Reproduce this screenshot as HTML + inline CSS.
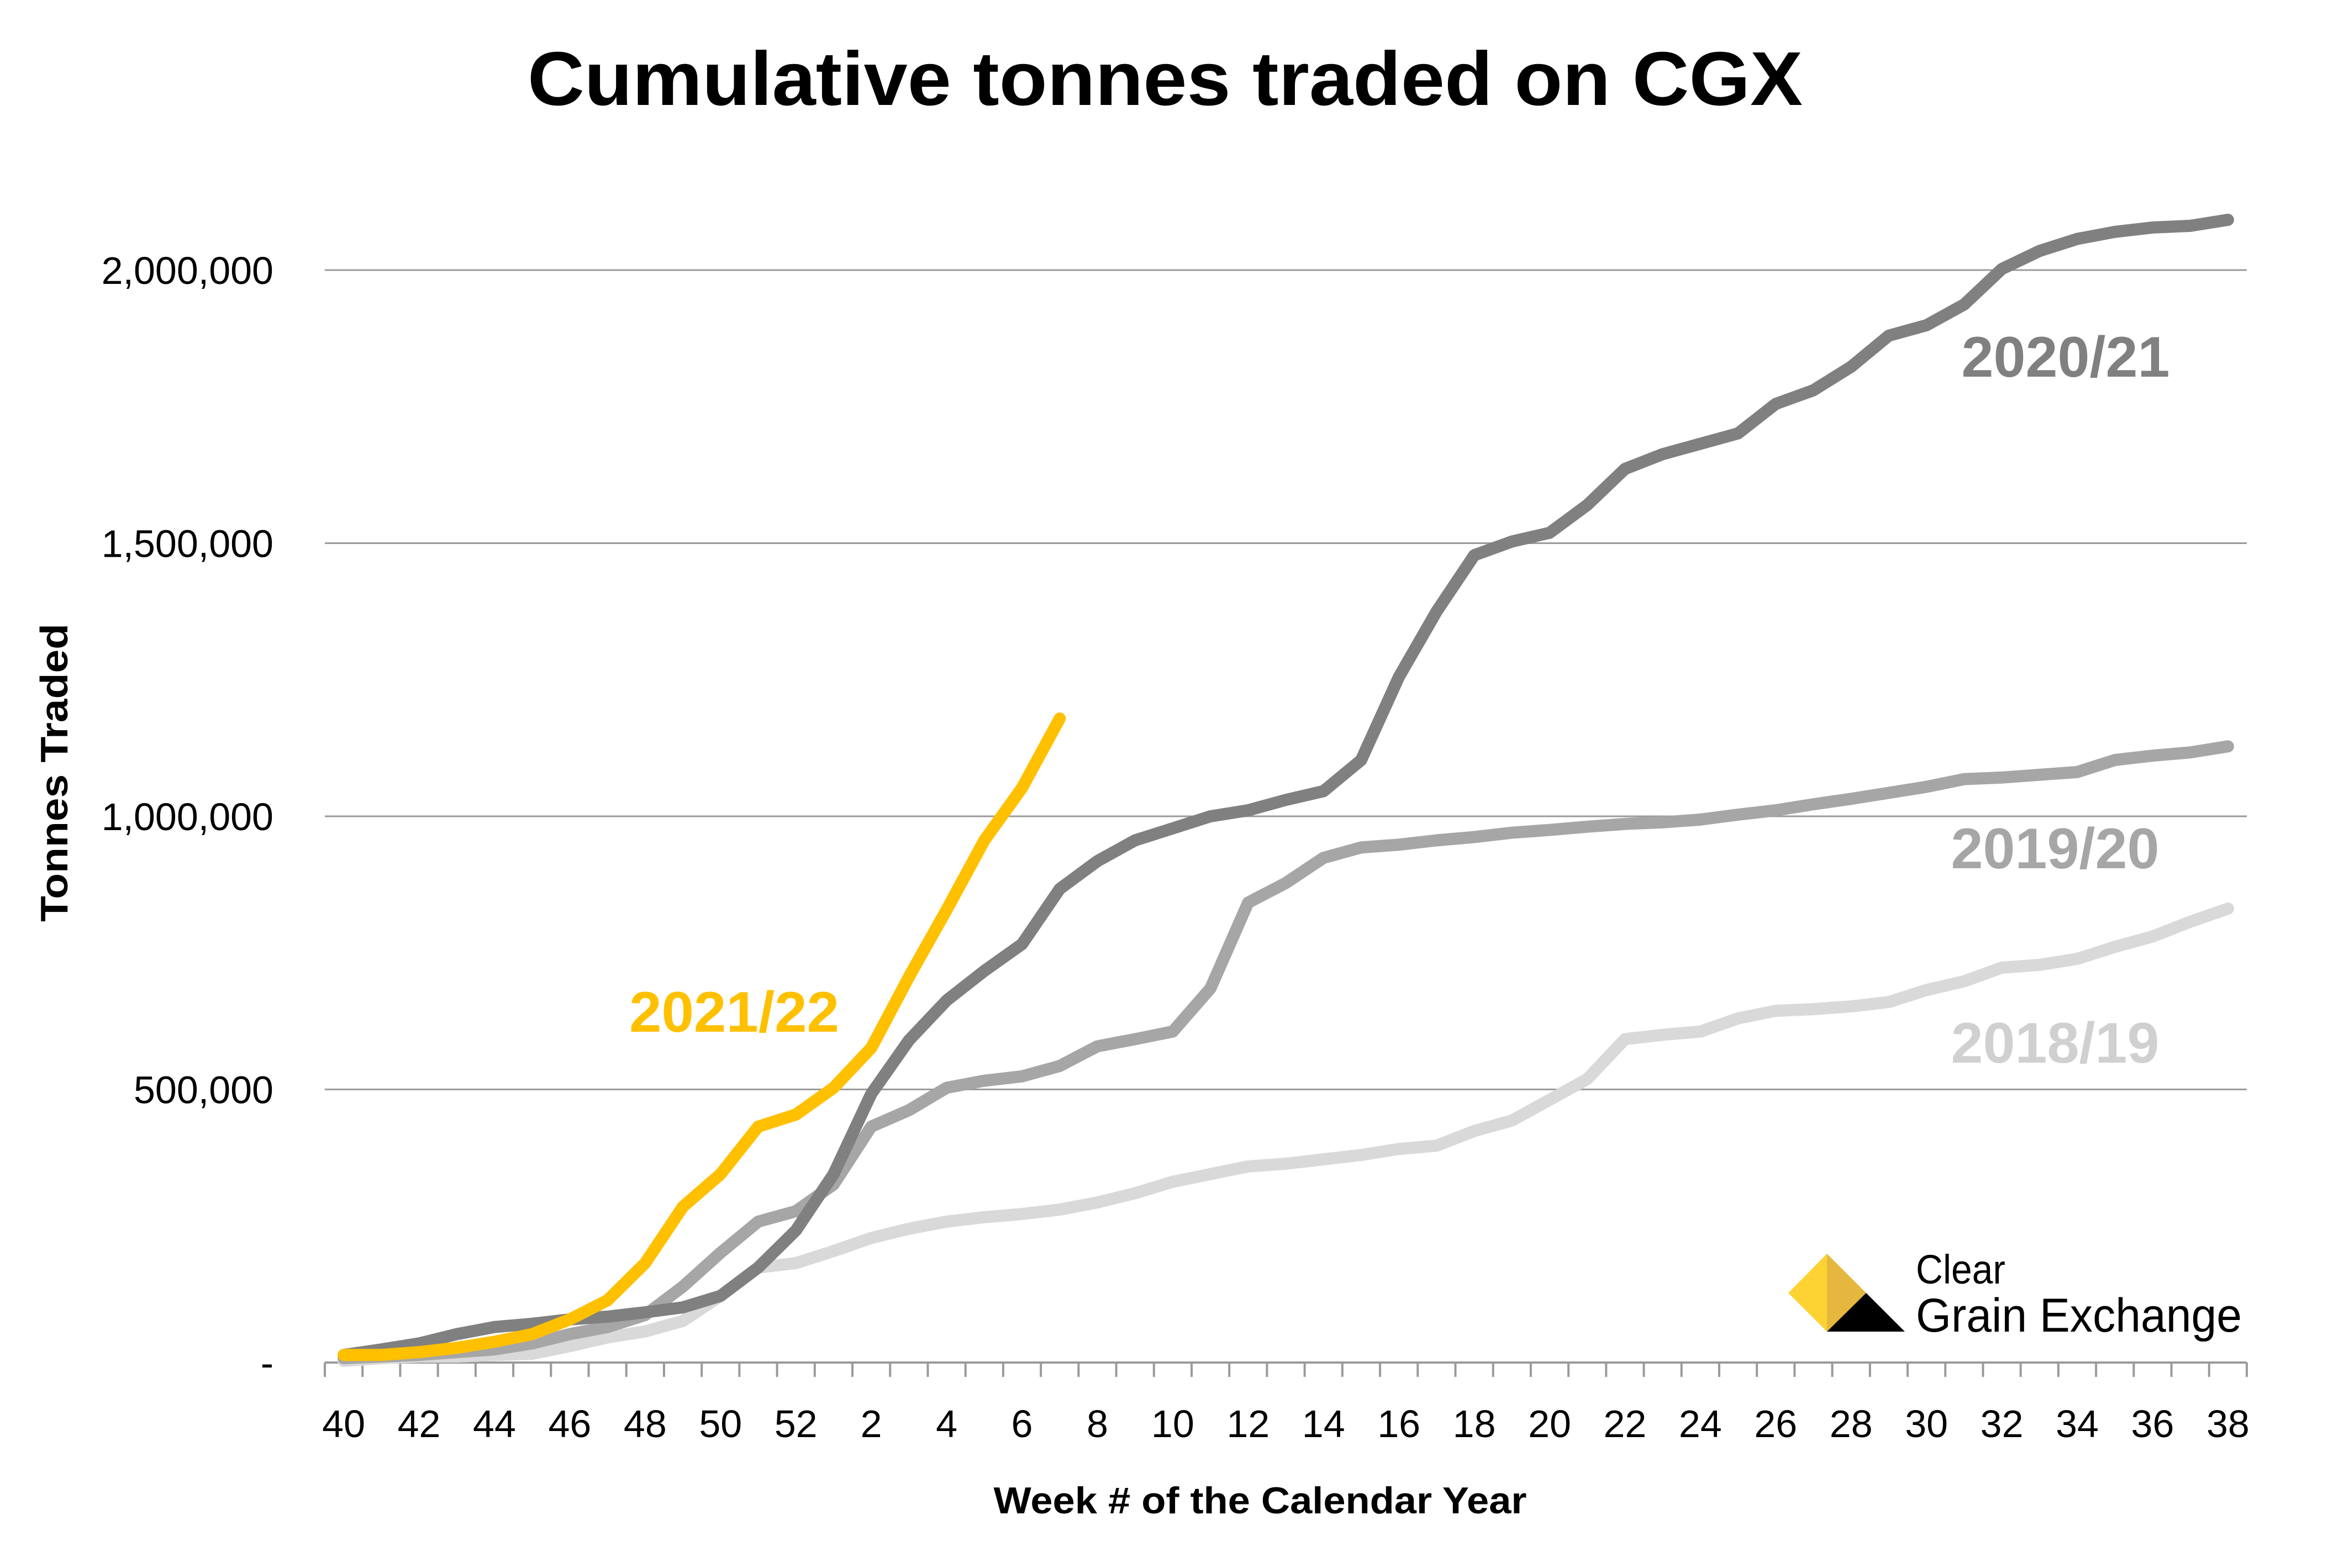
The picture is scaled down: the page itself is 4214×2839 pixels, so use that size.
<!DOCTYPE html>
<html><head><meta charset="utf-8"><style>
html,body{margin:0;padding:0;background:#fff}
svg{display:block}
text{font-family:"Liberation Sans",sans-serif}
</style></head><body>
<svg id="chart" width="4214" height="2839" viewBox="0 0 4214 2839" xmlns="http://www.w3.org/2000/svg">
<rect width="4214" height="2839" fill="#fff"/>
<text x="2109" y="190" text-anchor="middle" font-size="138" font-weight="bold" textLength="2308" lengthAdjust="spacingAndGlyphs">Cumulative tonnes traded on CGX</text>
<g id="grid"></g>
<g id="yticks"></g>
<g id="xaxis"></g>
<g id="series"></g>
<text transform="translate(122,1399) rotate(-90)" text-anchor="middle" font-size="70" font-weight="bold" textLength="540" lengthAdjust="spacingAndGlyphs">Tonnes Traded</text>
<text x="2281" y="2740" text-anchor="middle" font-size="68" font-weight="bold" textLength="965" lengthAdjust="spacingAndGlyphs">Week # of the Calendar Year</text>
<text x="1329" y="1868" text-anchor="middle" font-size="104" font-weight="bold" fill="#ffc000" textLength="380" lengthAdjust="spacingAndGlyphs">2021/22</text>
<text x="3739" y="682" text-anchor="middle" font-size="104" font-weight="bold" fill="#808080" textLength="377" lengthAdjust="spacingAndGlyphs">2020/21</text>
<text x="3720" y="1572" text-anchor="middle" font-size="104" font-weight="bold" fill="#a6a6a6" textLength="377" lengthAdjust="spacingAndGlyphs">2019/20</text>
<text x="3720" y="1924" text-anchor="middle" font-size="104" font-weight="bold" fill="#d0d0d0" textLength="377" lengthAdjust="spacingAndGlyphs">2018/19</text>
<g>
<polygon points="3307,2270 3237,2341 3307,2411" fill="#fdd334"/>
<polygon points="3307,2270 3378,2341 3307,2411" fill="#e5b73e"/>
<polygon points="3378,2341 3448,2411 3307,2411" fill="#000"/>
<text x="3468" y="2324" font-size="74" textLength="162" lengthAdjust="spacingAndGlyphs">Clear</text>
<text x="3468" y="2411" font-size="86" textLength="590" lengthAdjust="spacingAndGlyphs">Grain Exchange</text>
</g>
</svg>
<script>
const weeks=[40,41,42,43,44,45,46,47,48,49,50,51,52,1,2,3,4,5,6,7,8,9,10,11,12,13,14,15,16,17,18,19,20,21,22,23,24,25,26,27,28,29,30,31,32,33,34,35,36,37,38];
const yTicks=[0,500000,1000000,1500000,2000000];
const yTickLabels=["-","500,000","1,000,000","1,500,000","2,000,000"];
const s2122=[14,14,19,27,38,52,79,114,182,285,345,432,454,503,576,706,829,956,1052,1179];
const s2021=[14,24,35,52,65,71,79,84,92,101,122,174,242,345,492,590,663,717,766,867,918,956,978,1000,1011,1030,1046,1103,1255,1375,1478,1503,1519,1570,1636,1663,1682,1701,1755,1780,1823,1880,1899,1937,2002,2035,2057,2070,2078,2081,2092];
const s1920=[8,11,14,19,24,35,52,65,87,139,201,258,277,326,432,462,503,516,524,543,579,592,606,685,842,878,924,943,948,956,962,970,975,981,986,989,994,1003,1011,1022,1032,1043,1054,1068,1071,1076,1081,1103,1111,1117,1128];
const s1819=[3,8,11,11,14,16,30,46,57,76,122,174,182,204,228,245,258,266,272,280,293,310,331,345,359,364,372,380,391,397,424,443,481,519,592,600,606,630,644,647,652,660,682,698,723,728,739,761,780,807,831];

const NS="http://www.w3.org/2000/svg";
const X0=588,X1=4067,Y0=2467,Y2M=489;
const step=(X1-X0)/weeks.length;
const xs=i=>X0+step*(i+0.5);
const ys=v=>Y0-(v/2000000)*(Y0-Y2M);
function mk(tag,attrs,parent){const e=document.createElementNS(NS,tag);for(const k in attrs)e.setAttribute(k,attrs[k]);parent.appendChild(e);return e;}
const grid=document.getElementById('grid'),yt=document.getElementById('yticks'),xa=document.getElementById('xaxis'),ser=document.getElementById('series');
yTicks.forEach((v,i)=>{
  if(v>0){const l=mk('line',{x1:X0,x2:X1,y1:ys(v),y2:ys(v),stroke:'#9a9a9a','stroke-width':3},grid);
  
  }
  const t=mk('text',{x:495,y:ys(v)+25,'text-anchor':'end','font-size':70},yt);
  t.textContent=yTickLabels[i];
  
  
});
const ax=mk('line',{x1:X0,x2:X1,y1:Y0,y2:Y0,stroke:'#9a9a9a','stroke-width':4},xa);


for(let i=0;i<=weeks.length;i++){const x=X0+step*i;const tk=mk('line',{x1:x,x2:x,y1:Y0,y2:Y0+26,stroke:'#9a9a9a','stroke-width':4},xa);

}
weeks.forEach((w,i)=>{if(i%2===0){const t=mk('text',{x:xs(i),y:2602,'text-anchor':'middle','font-size':70},xa);t.textContent=w;

}});
function line(arr,color,name){const pts=arr.map((v,i)=>xs(i).toFixed(1)+','+ys(v*1000).toFixed(1)).join(' ');
const p=mk('polyline',{points:pts,fill:'none',stroke:color,'stroke-width':22,'stroke-linejoin':'round','stroke-linecap':'round'},ser);

}
line(s1819,'#d9d9d9','line-2018-19');
line(s1920,'#a6a6a6','line-2019-20');
line(s2021,'#808080','line-2020-21');
line(s2122,'#ffc000','line-2021-22');
</script>
</body></html>
